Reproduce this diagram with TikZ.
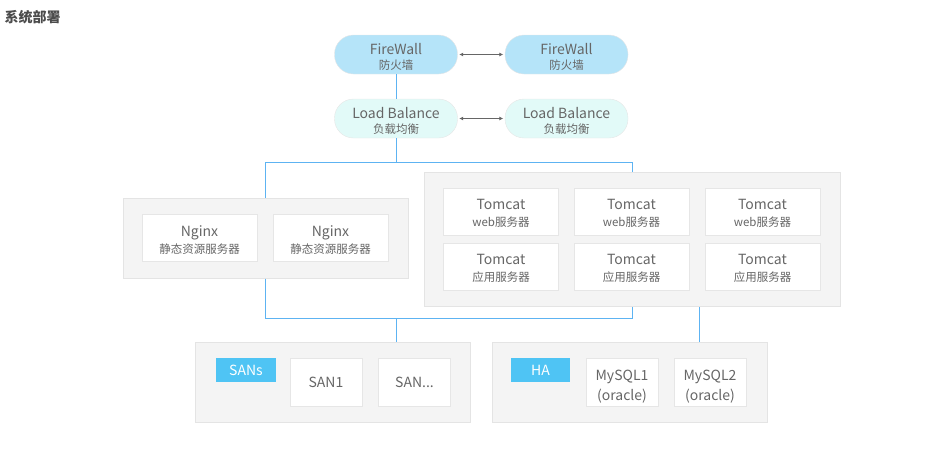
\documentclass[tikz,border=0pt]{standalone}
\usepackage{fontspec}
\setmainfont{Noto Sans CJK SC}
\usetikzlibrary{arrows.meta,calc}

\definecolor{txtgray}{HTML}{666666}
\definecolor{grpfill}{HTML}{F4F4F4}
\definecolor{grpline}{HTML}{E4E4E4}
\definecolor{boxline}{HTML}{E6E6E6}
\definecolor{fwfill}{HTML}{B5E4F9}
\definecolor{lbfill}{HTML}{E2FAF8}
\definecolor{lblfill}{HTML}{4FC4F4}
\definecolor{linkblue}{HTML}{5DB3F2}

\newcommand{\up}[1]{\rule{0pt}{#1}}
\newcommand{\sub}[1]{{\fontsize{11.5}{13}\selectfont #1}}

\begin{document}
\begin{tikzpicture}[x=1pt,y=-1pt,
    pill/.style={draw=boxline,rounded corners=19pt,minimum width=123pt,minimum height=39pt,
        align=center,text=txtgray,font=\fontsize{14}{15}\selectfont,inner sep=0pt},
    group/.style={draw=grpline,fill=grpfill,line width=1pt,inner sep=0pt},
    srv/.style={draw=boxline,fill=white,line width=1pt,minimum width=115pt,minimum height=47pt,
        align=center,text=txtgray,font=\fontsize{14}{17}\selectfont,inner sep=0pt},
    db/.style={srv,minimum width=72pt,minimum height=48pt,font=\fontsize{14}{20}\selectfont},
    tag/.style={fill=lblfill,text=white,minimum height=24pt,inner sep=0pt,
        font=\fontsize{14}{15}\selectfont},
    link/.style={draw=linkblue,line width=1pt},
    both/.style={draw=black!60,line width=1pt,{Latex[length=4pt,width=4pt]}-{Latex[length=4pt,width=4pt]},
        shorten >=1.5pt,shorten <=1.5pt}]
\useasboundingbox (0,0) rectangle (930,456);

\node[anchor=west,text=black!70,font=\fontsize{14}{16}\selectfont\bfseries] (title) at (1,17) {系统部署};

\node[pill,fill=fwfill] (fwA) at (396,54.5) {\up{15pt}FireWall\\\sub{防火墙}};
\node[pill,fill=fwfill] (fwB) at (566.5,54.5) {\up{15pt}FireWall\\\sub{防火墙}};
\node[pill,fill=lbfill] (lbA) at (396,118.5) {\up{15pt}Load Balance\\\sub{负载均衡}};
\node[pill,fill=lbfill] (lbB) at (566.5,118.5) {\up{15pt}Load Balance\\\sub{负载均衡}};
\draw[both] (fwA) -- (fwB);
\draw[both] (lbA) -- (lbB);

\node[group,minimum width=285pt,minimum height=80pt] (nginxGrp) at (265.5,238) {};
\node[srv] (ngA) at (199.5,238) {\up{14pt}Nginx\\\sub{静态资源服务器}};
\node[srv] (ngB) at (330.5,238) {\up{14pt}Nginx\\\sub{静态资源服务器}};

\node[group,minimum width=416pt,minimum height=134pt] (tomGrp) at (632,239) {};
\foreach \x/\n in {501/a,631.5/b,762.5/c}{
    \node[srv] (web\n) at (\x,211.5) {\up{14pt}Tomcat\\\sub{web服务器}};
    \node[srv] (app\n) at (\x,266.5) {\up{14pt}Tomcat\\\sub{应用服务器}};
}

\node[group,minimum width=275pt,minimum height=80pt] (sanGrp) at (332.5,382) {};
\node[tag,minimum width=60pt] (sanTag) at (246,370) {SANs};
\node[db] (sanA) at (326,382) {SAN1};
\node[db] (sanN) at (414.5,382) {SAN...};

\node[group,minimum width=275pt,minimum height=80pt] (haGrp) at (629.5,382) {};
\node[tag,minimum width=59pt] (haTag) at (540.5,370) {HA};
\node[db] (myA) at (622,382) {\up{19pt}MySQL1\\(oracle)};
\node[db] (myB) at (710,382) {\up{19pt}MySQL2\\(oracle)};

\coordinate (busT) at (396,162);
\coordinate (busB) at (396,318);
\draw[link] (fwA) -- (lbA);
\draw[link] (lbA) -- (busT);
\draw[link] (nginxGrp.north) -- (nginxGrp.north |- busT) -- (tomGrp.north |- busT) -- (tomGrp.north);
\draw[link] (nginxGrp.south) -- (nginxGrp.south |- busB) -- (tomGrp.south |- busB) -- (tomGrp.south);
\draw[link] (busB) -- (busB |- sanGrp.north);
\draw[link] ([xshift=69.5pt]haGrp.north) -- ([xshift=69.5pt]haGrp.north |- tomGrp.south);
\end{tikzpicture}
\end{document}
